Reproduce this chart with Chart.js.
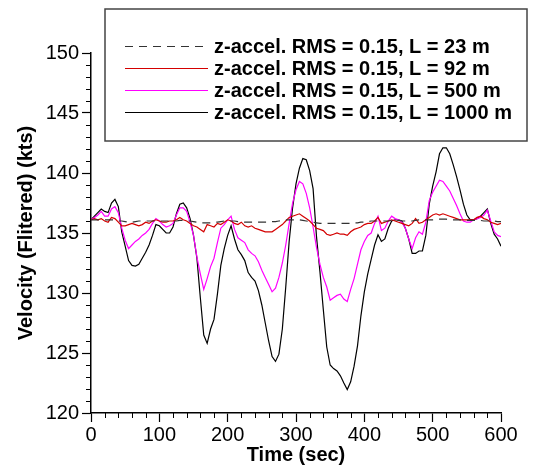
<!DOCTYPE html>
<html>
<head>
<meta charset="utf-8">
<script src="https://cdn.jsdelivr.net/npm/chart.js@4.4.1/dist/chart.umd.min.js"></script>
<style>
  html, body { margin: 0; padding: 0; background: #fff; }
  #wrap { width: 535px; height: 467px; }
</style>
</head>
<body>
<div id="wrap"><canvas id="velChart" width="535" height="467"></canvas></div>
<script>
// time base, every 5 s
const seconds = [
  0, 5, 10, 15, 20, 25, 30, 35, 40, 45,
  50, 55, 60, 65, 70, 75, 80, 85, 90, 95,
  100, 105, 110, 115, 120, 125, 130, 135, 140, 145,
  150, 155, 160, 165, 170, 175, 180, 185, 190, 195,
  200, 205, 210, 215, 220, 225, 230, 235, 240, 245,
  250, 255, 260, 265, 270, 275, 280, 285, 290, 295,
  300, 305, 310, 315, 320, 325, 330, 335, 340, 345,
  350, 355, 360, 365, 370, 375, 380, 385, 390, 395,
  400, 405, 410, 415, 420, 425, 430, 435, 440, 445,
  450, 455, 460, 465, 470, 475, 480, 485, 490, 495,
  500, 505, 510, 515, 520, 525, 530, 535, 540, 545,
  550, 555, 560, 565, 570, 575, 580, 585, 590, 595,
  600
];

// filtered velocity (kts) for each turbulence length
const velL23 = [
  136.1, 136.1, 136.1, 136.1, 136.1, 136.1, 136.1, 136.1, 136.0, 136.0,
  135.95, 135.9, 135.9, 135.95, 136.0, 136.0, 136.0, 136.0, 136.0, 136.0,
  136.0, 136.0, 136.0, 136.0, 136.0, 136.0, 136.05, 136.05, 136.0, 136.0,
  135.95, 135.9, 135.85, 135.85, 135.85, 135.85, 135.9, 135.9, 135.95, 136.0,
  136.0, 136.0, 136.0, 135.95, 135.95, 135.9, 135.9, 135.9, 135.9, 135.9,
  135.9, 135.9, 135.9, 135.95, 135.95, 136.0, 136.05, 136.1, 136.1, 136.1,
  136.1, 136.1, 136.05, 136.0, 135.95, 135.9, 135.85, 135.8, 135.8, 135.8,
  135.8, 135.8, 135.8, 135.8, 135.8, 135.8, 135.8, 135.85, 135.85, 135.9,
  135.9, 135.95, 136.0, 136.0, 136.0, 136.0, 136.0, 136.0, 136.05, 136.05,
  136.05, 136.0, 136.0, 136.0, 136.0, 136.05, 136.1, 136.1, 136.1, 136.1,
  136.1, 136.15, 136.15, 136.15, 136.15, 136.1, 136.1, 136.1, 136.1, 136.1,
  136.05, 136.05, 136.05, 136.05, 136.05, 136.0, 136.0, 136.0, 136.0, 135.95,
  135.95
];

const velL92 = [
  136.1, 136.2, 136.1, 136.2, 136.0, 135.9, 136.3, 136.2, 135.9, 135.6,
  135.6, 135.7, 135.8, 135.7, 135.6, 135.7, 135.9, 135.8, 136.0, 136.1,
  136.0, 135.9, 135.9, 136.0, 136.0, 136.1, 136.3, 136.1, 136.0, 135.8,
  135.6, 135.5, 135.3, 135.1, 135.7, 135.6, 135.5, 135.8, 135.7, 135.9,
  136.1, 136.0, 135.8, 135.7, 135.9, 135.6, 135.5, 135.6, 135.4, 135.3,
  135.2, 135.1, 135.1, 135.1, 135.3, 135.5, 135.7, 136.0, 136.3, 136.4,
  136.5, 136.6, 136.4, 136.2, 136.0, 135.7, 135.4, 135.3, 135.2, 134.9,
  134.8, 134.9, 135.0, 134.9, 134.9, 134.8, 135.1, 135.3, 135.4, 135.5,
  135.7, 135.8, 135.8, 136.0, 136.3, 135.8, 135.9, 136.0, 136.1, 136.0,
  135.9, 135.8, 135.7, 135.6, 135.8, 136.2, 135.8, 135.9, 136.1, 136.3,
  136.5, 136.6, 136.5, 136.6, 136.5, 136.4, 136.3, 136.2, 136.1, 136.1,
  136.1, 136.1, 136.1, 136.3, 136.4, 136.2, 136.1, 135.9, 135.8, 135.7,
  135.8
];

const velL500 = [
  136.1, 136.3, 136.5, 136.8, 136.4, 136.4, 137.0, 137.2, 136.7, 135.4,
  134.4, 133.7, 134.0, 134.3, 134.5, 134.8, 135.0, 135.3, 135.8, 136.2,
  136.0, 135.7, 135.5, 135.6, 135.8, 136.5, 137.1, 137.1, 136.8, 135.9,
  134.8, 133.0, 131.6, 130.3, 131.2, 132.2, 132.9, 134.2, 135.4, 135.7,
  136.1, 136.4, 135.3, 134.6, 134.4, 134.2, 133.6, 133.3, 133.1, 132.6,
  131.9, 131.3, 130.7, 130.1, 130.4, 131.3, 132.5, 134.0, 135.8, 137.5,
  138.6, 139.3, 139.1, 138.3, 137.1, 135.5, 133.8, 132.4, 131.3, 130.5,
  129.4, 129.6, 129.8, 129.9, 129.5, 129.3, 130.3, 131.2, 132.4, 133.6,
  134.3, 134.8, 135.0, 135.8, 136.4, 135.2, 135.4, 136.0, 136.4, 136.2,
  136.1, 135.9, 135.4, 134.5, 133.7, 134.6, 135.1, 134.9, 135.9, 137.7,
  138.4, 138.9, 139.4, 139.3, 138.9, 138.5, 137.9, 137.3, 136.6, 136.0,
  135.9, 135.9, 136.1, 136.2, 136.3, 136.5, 136.9, 136.0, 135.1, 134.8,
  134.7
];

const velL1000 = [
  136.1, 136.4, 136.7, 137.0, 136.8, 136.7, 137.5, 137.8, 137.2, 135.1,
  133.9, 132.7, 132.3, 132.25, 132.4, 132.9, 133.4, 134.0, 134.8, 135.7,
  135.6, 135.3, 135.0, 135.0, 135.5, 136.6, 137.4, 137.5, 137.1, 136.2,
  134.8, 132.9, 129.6, 126.5, 125.8, 127.0, 127.8, 129.9, 132.3, 133.7,
  134.8, 135.6, 134.5, 133.6, 133.2, 132.7, 131.7, 131.3, 131.0, 130.2,
  129.0, 127.5, 126.0, 124.7, 124.3, 124.9, 127.0, 130.5, 134.3, 137.1,
  139.1, 140.4, 141.2, 141.1, 140.2, 138.7, 134.7, 131.8, 128.6, 125.5,
  124.0, 123.7, 123.5, 123.1, 122.5, 121.95, 122.6, 123.9, 125.6, 128.1,
  130.1, 131.6, 132.8, 134.0, 134.85, 134.3, 134.5, 135.4, 136.0, 136.1,
  136.1, 136.0, 135.4, 134.5, 133.3, 133.3, 133.5, 133.5, 134.8, 137.4,
  138.9, 140.1, 141.6, 142.1, 142.1, 141.6, 140.7, 139.7, 138.6, 137.4,
  136.5, 136.1, 136.1, 136.2, 136.4, 136.7, 137.0, 135.8, 134.9, 134.5,
  133.9
];

const seriesLabels = [
  'z-accel. RMS = 0.15, L = 23 m',
  'z-accel. RMS = 0.15, L = 92 m',
  'z-accel. RMS = 0.15, L = 500 m',
  'z-accel. RMS = 0.15, L = 1000 m'
];

const xTicks = [0, 100, 200, 300, 400, 500, 600];
const yTicks = [120, 125, 130, 135, 140, 145, 150];

const FONT = "'Liberation Sans', Arial, sans-serif";

function toPoints(vals) {
  return seconds.map((t, i) => ({ x: t, y: vals[i] }));
}

// small ticks between the labelled ones + boxed legend in the upper right
const extras = {
  id: 'extras',
  afterDraw(chart) {
    const ctx = chart.ctx;
    const xs = chart.scales.x, ys = chart.scales.y;
    ctx.save();
    ctx.strokeStyle = '#000';
    ctx.lineWidth = 1;
    ctx.beginPath();
    for (let t = xs.min; t <= xs.max; t += 20) {
      if (t % 100 === 0) continue;
      const px = Math.round(xs.getPixelForValue(t)) + 0.5;
      ctx.moveTo(px, ys.bottom);
      ctx.lineTo(px, ys.bottom + 5);
    }
    for (let v = ys.min; v <= ys.max; v += 1) {
      if (v % 5 === 0) continue;
      const py = Math.round(ys.getPixelForValue(v)) + 0.5;
      ctx.moveTo(xs.left - 5, py);
      ctx.lineTo(xs.left, py);
    }
    ctx.stroke();

    // legend box
    const bx = 105, by = 9, bw = 422, bh = 132;
    ctx.fillStyle = '#fff';
    ctx.fillRect(bx, by, bw, bh);
    ctx.strokeStyle = '#444';
    ctx.lineWidth = 1.5;
    ctx.strokeRect(bx, by, bw, bh);

    ctx.font = 'bold 20px ' + FONT;
    ctx.textBaseline = 'middle';
    ctx.textAlign = 'left';
    chart.data.datasets.forEach((ds, i) => {
      const ry = 46 + i * 22;
      ctx.strokeStyle = ds.borderColor;
      ctx.lineWidth = ds.borderWidth;
      ctx.setLineDash(ds.borderDash || []);
      ctx.beginPath();
      ctx.moveTo(125, ry + 0.5);
      ctx.lineTo(208, ry + 0.5);
      ctx.stroke();
      ctx.setLineDash([]);
      ctx.fillStyle = '#000';
      ctx.fillText(ds.label, 214, ry + 1);
    });
    ctx.restore();
  }
};

new Chart(document.getElementById('velChart'), {
  type: 'line',
  data: {
    datasets: [
      { label: seriesLabels[0], data: toPoints(velL23), borderColor: '#333', borderWidth: 1.2, borderDash: [8, 6] },
      { label: seriesLabels[1], data: toPoints(velL92), borderColor: '#d40000', borderWidth: 1.2 },
      { label: seriesLabels[2], data: toPoints(velL500), borderColor: '#ff00ff', borderWidth: 1.2 },
      { label: seriesLabels[3], data: toPoints(velL1000), borderColor: '#000', borderWidth: 1.2 }
    ]
  },
  options: {
    responsive: false,
    animation: false,
    devicePixelRatio: 1,
    layout: { padding: { top: 53, right: 34, left: 0, bottom: 0 } },
    elements: { point: { radius: 0 }, line: { tension: 0 } },
    plugins: { legend: { display: false }, tooltip: { enabled: false } },
    scales: {
      x: {
        type: 'linear',
        min: 0, max: 600,
        afterBuildTicks: s => { s.ticks = xTicks.map(v => ({ value: v })); },
        afterFit: s => { s.height = 54; },
        ticks: { color: '#000', font: { family: FONT, size: 20 }, padding: 1, maxRotation: 0 },
        grid: { drawOnChartArea: false, tickLength: 9, tickColor: '#000', tickWidth: 1.2 },
        border: { color: '#000', width: 1.5 },
        title: { display: true, text: 'Time (sec)', color: '#000', font: { family: FONT, size: 20, weight: 'bold' }, padding: 0 }
      },
      y: {
        min: 120, max: 150,
        afterBuildTicks: s => { s.ticks = yTicks.map(v => ({ value: v })); },
        afterFit: s => { s.width = 91; },
        ticks: { color: '#000', font: { family: FONT, size: 20 }, padding: 3 },
        grid: { drawOnChartArea: false, tickLength: 9, tickColor: '#000', tickWidth: 1.2 },
        border: { color: '#000', width: 1.5 },
        title: { display: true, text: 'Velocity (Flitered) (kts)', color: '#000', font: { family: FONT, size: 20, weight: 'bold' }, padding: { top: 14, bottom: 0 } }
      }
    }
  },
  plugins: [extras]
});
</script>
</body>
</html>
